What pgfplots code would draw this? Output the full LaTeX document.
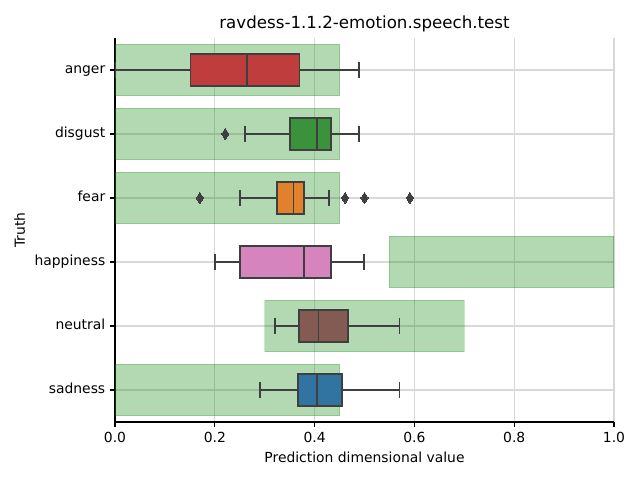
\documentclass[border=0pt]{standalone}
\usepackage{pgfplots}
\pgfplotsset{compat=1.18}
\usepgfplotslibrary{statistics}
\usepackage{fontspec}
\setmainfont{DejaVu Sans}
\definecolor{cA}{HTML}{C03D3E}
\definecolor{cD}{HTML}{3A923A}
\definecolor{cF}{HTML}{E1812C}
\definecolor{cH}{HTML}{D684BD}
\definecolor{cN}{HTML}{845B53}
\definecolor{cS}{HTML}{3274A1}
\definecolor{boxgray}{HTML}{3F3F3F}
\definecolor{band}{RGB}{0,128,0}
\begin{document}
\begin{tikzpicture}
\useasboundingbox (0,0) rectangle (460.8pt,345.6pt);
\begin{axis}[
  at={(82.8pt,41.76pt)}, anchor=south west,
  scale only axis, width=359.3pt, height=276.5pt,
  xmin=0, xmax=1, ymin=-0.5, ymax=5.5, y dir=reverse,
  ytick={0,1,2,3,4,5},
  yticklabels={anger,disgust,fear,happiness,neutral,sadness},
  yticklabel style={text height=0.7em, text depth=0.26em},
  xtick={0,0.2,0.4,0.6,0.8,1},
  xticklabel style={/pgf/number format/.cd, fixed, fixed zerofill, precision=1, assume math mode=true},
  axis x line*=bottom, axis y line*=left,
  axis line style={line width=0.8pt, black},
  tick align=outside, major tick length=3.5pt,
  tick style={black, line width=0.8pt},
  grid=major, grid style={black!15, line width=0.8pt},
  title={ravdess-1.1.2-emotion.speech.test},
  xlabel={Prediction dimensional value},
  ylabel={Truth},
  title style={font=\fontsize{12}{14}\selectfont, yshift=-5pt},
  label style={font=\fontsize{10}{12}\selectfont},
  tick label style={font=\fontsize{10}{12}\selectfont},
  boxplot/draw direction=x,
]
% bands
\addplot[fill=band, fill opacity=0.3, draw=band, draw opacity=0.2, line width=1pt] coordinates {(0,-0.4) (0.45,-0.4) (0.45,0.4) (0,0.4)} -- cycle;
\addplot[fill=band, fill opacity=0.3, draw=band, draw opacity=0.2, line width=1pt] coordinates {(0,0.6) (0.45,0.6) (0.45,1.4) (0,1.4)} -- cycle;
\addplot[fill=band, fill opacity=0.3, draw=band, draw opacity=0.2, line width=1pt] coordinates {(0,1.6) (0.45,1.6) (0.45,2.4) (0,2.4)} -- cycle;
\addplot[fill=band, fill opacity=0.3, draw=band, draw opacity=0.2, line width=1pt] coordinates {(0.55,2.6) (1.0,2.6) (1.0,3.4) (0.55,3.4)} -- cycle;
\addplot[fill=band, fill opacity=0.3, draw=band, draw opacity=0.2, line width=1pt] coordinates {(0.3,3.6) (0.7,3.6) (0.7,4.4) (0.3,4.4)} -- cycle;
\addplot[fill=band, fill opacity=0.3, draw=band, draw opacity=0.2, line width=1pt] coordinates {(0,4.6) (0.45,4.6) (0.45,5.4) (0,5.4)} -- cycle;
% boxes
\addplot[boxplot prepared={draw position=0, lower whisker=0.0, lower quartile=0.151, median=0.264, upper quartile=0.370, upper whisker=0.489, box extend=0.5, whisker extend=0.25}, fill=cA, draw=boxgray, line width=1.2pt, solid] coordinates {};
\addplot[boxplot prepared={draw position=1, lower whisker=0.260, lower quartile=0.351, median=0.405, upper quartile=0.433, upper whisker=0.489, box extend=0.5, whisker extend=0.25}, fill=cD, draw=boxgray, line width=1.2pt, solid] coordinates {};
\addplot[boxplot prepared={draw position=2, lower whisker=0.250, lower quartile=0.325, median=0.358, upper quartile=0.379, upper whisker=0.429, box extend=0.5, whisker extend=0.25}, fill=cF, draw=boxgray, line width=1.2pt, solid] coordinates {};
\addplot[boxplot prepared={draw position=3, lower whisker=0.201, lower quartile=0.250, median=0.379, upper quartile=0.433, upper whisker=0.499, box extend=0.5, whisker extend=0.25}, fill=cH, draw=boxgray, line width=1.2pt, solid] coordinates {};
\addplot[boxplot prepared={draw position=4, lower whisker=0.321, lower quartile=0.369, median=0.408, upper quartile=0.467, upper whisker=0.570, box extend=0.5, whisker extend=0.25}, fill=cN, draw=boxgray, line width=1.2pt, solid] coordinates {};
\addplot[boxplot prepared={draw position=5, lower whisker=0.291, lower quartile=0.367, median=0.405, upper quartile=0.455, upper whisker=0.570, box extend=0.5, whisker extend=0.25}, fill=cS, draw=boxgray, line width=1.2pt, solid] coordinates {};
% outliers
\addplot[only marks, mark=diamond*, mark size=4pt, mark options={fill=boxgray, draw=boxgray, line width=0pt, xscale=0.85}] coordinates {(0.221,1) (0.170,2) (0.461,2) (0.500,2) (0.591,2)};
\end{axis}
\end{tikzpicture}
\end{document}
